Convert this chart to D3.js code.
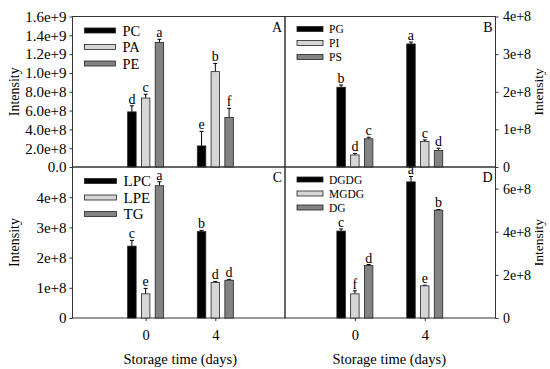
<!DOCTYPE html>
<html>
<head>
<meta charset="utf-8">
<script src="https://cdn.jsdelivr.net/npm/d3@7"></script>
<style>
  body { margin: 0; background: #fff; }
  text { font-family: 'Liberation Serif', 'Times New Roman', serif; fill: #000; }
</style>
</head>
<body>
<svg id="chart" width="550" height="369"></svg>
<script>
// storage days on the x axis
const days = [0, 4]

// panel A
const seriesA = ['PC', 'PA', 'PE']
const valuesA = [[5.86e8, 2.24e8], [7.33e8, 1.014e9], [1.323e9, 5.26e8]]
const errorsA = [[6.5e7, 1.55e8], [4.0e7, 8.7e7], [3.5e7, 9.8e7]]
const lettersA = [['d', 'e'], ['c', 'b'], ['a', 'f']]
const ticksA = [0, 2e8, 4e8, 6e8, 8e8, 1e9, 1.2e9, 1.4e9, 1.6e9]

// panel B
const seriesB = ['PG', 'PI', 'PS']
const valuesB = [[2.12e8, 3.27e8], [3.2e7, 6.8e7], [7.5e7, 4.4e7]]
const errorsB = [[6e6, 5e6], [4e6, 4e6], [4e6, 6e6]]
const lettersB = [['b', 'a'], ['d', 'c'], ['c', 'd']]
const ticksB = [0, 1e8, 2e8, 3e8, 4e8]

// panel C
const seriesC = ['LPC', 'LPE', 'TG']
const valuesC = [[2.38e8, 2.86e8], [8.0e7, 1.18e8], [4.38e8, 1.25e8]]
const errorsC = [[1.9e7, 4e6], [1.8e7, 3e6], [1.3e7, 3e6]]
const lettersC = [['c', 'b'], ['e', 'd'], ['a', 'd']]
const ticksC = [0, 1e8, 2e8, 3e8, 4e8]

// panel D
const seriesD = ['DGDG', 'MGDG', 'DG']
const valuesD = [[4.03e8, 6.31e8], [1.12e8, 1.49e8], [2.43e8, 5.0e8]]
const errorsD = [[1.0e7, 2.5e7], [1.4e7, 3e6], [5e6, 3e6]]
const lettersD = [['c', 'a'], ['f', 'e'], ['d', 'b']]
const ticksD = [0, 2e8, 4e8, 6e8]

const fills = ['#000000', '#d6d6d6', '#838383']

// 布局
const L = 72.5, M = 285, R = 495.5
const T = 16.5, MID = 167, B = 318

const svg = d3.select('#chart')
svg.append('rect').attr('width', 550).attr('height', 369).attr('fill', '#fff')

const fmtA = v => (v === 0 ? '0.0' : v.toExponential(1))
const fmtB = v => (v === 0 ? '0' : v.toExponential(0))

const panels = [
  { id: 'A', series: seriesA, values: valuesA, errors: errorsA, letters: lettersA, ticks: ticksA, fmt: fmtA,
    yMax: 1.6e9, x0: L, x1: M, y0: T, y1: MID, side: 'left', xDom: [-4.2, 8], legFont: 14.5, swW: 31 },
  { id: 'B', series: seriesB, values: valuesB, errors: errorsB, letters: lettersB, ticks: ticksB, fmt: fmtB,
    yMax: 4e8, x0: M, x1: R, y0: T, y1: MID, side: 'right', xDom: [-4, 8.05], legFont: 11.5, swW: 26 },
  { id: 'C', series: seriesC, values: valuesC, errors: errorsC, letters: lettersC, ticks: ticksC, fmt: fmtB,
    yMax: 5e8, x0: L, x1: M, y0: MID, y1: B, side: 'left', xDom: [-4.2, 8], legFont: 15, swW: 32, xAxis: true },
  { id: 'D', series: seriesD, values: valuesD, errors: errorsD, letters: lettersD, ticks: ticksD, fmt: fmtB,
    yMax: 7e8, x0: M, x1: R, y0: MID, y1: B, side: 'right', xDom: [-4, 8.05], legFont: 11.5, swW: 26, xAxis: true },
]

panels.forEach(p => {
  const g = svg.append('g').attr('class', 'panel-' + p.id)
  const x = d3.scaleLinear().domain(p.xDom).range([p.x0, p.x1])
  const y = d3.scaleLinear().domain([0, p.yMax]).range([p.y1, p.y0])
  const sub = d3.scaleBand().domain(p.series).range([-18, 18]).paddingInner(0.385)

  // 框
  g.append('rect')
    .attr('x', p.x0).attr('y', p.y0)
    .attr('width', p.x1 - p.x0).attr('height', p.y1 - p.y0)
    .attr('fill', 'none').attr('stroke', '#333').attr('stroke-width', 1)

  // y 轴
  const isLeft = p.side === 'left'
  const yAxis = (isLeft ? d3.axisLeft(y) : d3.axisRight(y))
    .tickValues(p.ticks).tickFormat(p.fmt).tickSize(3).tickPadding(isLeft ? 3 : 4.5)
  const yAxisG = g.append('g')
    .attr('transform', `translate(${isLeft ? p.x0 : p.x1},0)`)
    .call(yAxis)
  yAxisG.select('.domain').remove()
  yAxisG.selectAll('line').attr('stroke', '#333')
  yAxisG.selectAll('text').attr('font-size', isLeft ? 15 : 14)
    .attr('font-family', "'Liberation Serif', serif").attr('fill', '#000')

  // 轴标签
  const lx = isLeft ? 19 : 543
  g.append('text')
    .attr('transform', `translate(${lx},${(p.y0 + p.y1) / 2}) rotate(-90)`)
    .attr('text-anchor', 'middle')
    .attr('font-size', isLeft ? 14 : 13.5)
    .text('Intensity')

  // x 轴
  if (p.xAxis) {
    const xAxisG = g.append('g')
      .attr('transform', `translate(0,${p.y1})`)
      .call(d3.axisBottom(x).tickValues(days).tickFormat(d3.format('d')).tickSize(3).tickPadding(8.5))
    xAxisG.select('.domain').remove()
    xAxisG.selectAll('line').attr('stroke', '#333')
    xAxisG.selectAll('text').attr('font-size', 14.5)
      .attr('font-family', "'Liberation Serif', serif").attr('fill', '#000')
    g.append('text')
      .attr('x', (p.x0 + p.x1) / 2 + (isLeft ? 1.5 : -1)).attr('y', 364)
      .attr('text-anchor', 'middle').attr('font-size', 14.5)
      .text('Storage time (days)')
  }

  // 柱子
  p.series.forEach((s, si) => {
    const sg = g.append('g').attr('class', 'series')
    days.forEach((day, di) => {
      const v = p.values[si][di]
      const e = p.errors[si][di]
      const bx = x(day) + sub(s)
      const cx = bx + sub.bandwidth() / 2
      sg.append('line')
        .attr('x1', cx).attr('x2', cx)
        .attr('y1', y(v)).attr('y2', y(v + e))
        .attr('stroke', '#000').attr('stroke-width', 1)
      sg.append('line')
        .attr('x1', cx - 2).attr('x2', cx + 2)
        .attr('y1', y(v + e)).attr('y2', y(v + e))
        .attr('stroke', '#000').attr('stroke-width', 1)
      sg.append('rect')
        .attr('x', bx).attr('y', y(v))
        .attr('width', sub.bandwidth()).attr('height', y(0) - y(v))
        .attr('fill', fills[si]).attr('stroke', '#222').attr('stroke-width', 0.8)
      sg.append('text')
        .attr('x', cx).attr('y', y(v + e) - 2)
        .attr('text-anchor', 'middle').attr('font-size', 14)
        .text(p.letters[si][di])
    })
  })

  // 图例
  const legX = p.x0 + (isLeft ? 12 : 12)
  const legY = p.y0 + (isLeft ? 14 : 12.5)
  const legStep = isLeft ? 16.5 : 14
  p.series.forEach((s, si) => {
    const ly = legY + si * legStep
    g.append('rect')
      .attr('x', legX).attr('y', ly - 2.5)
      .attr('width', p.swW).attr('height', 5)
      .attr('fill', fills[si]).attr('stroke', '#222').attr('stroke-width', 0.8)
    g.append('text')
      .attr('x', legX + p.swW + (isLeft ? 7 : 6)).attr('y', ly)
      .attr('dy', '0.35em').attr('font-size', p.legFont)
      .text(s)
  })

  // 面板字母
  g.append('text')
    .attr('x', p.x1 - 3).attr('y', p.y0 + 15)
    .attr('text-anchor', 'end').attr('font-size', 14)
    .text(p.id)
})
</script>
</body>
</html>
